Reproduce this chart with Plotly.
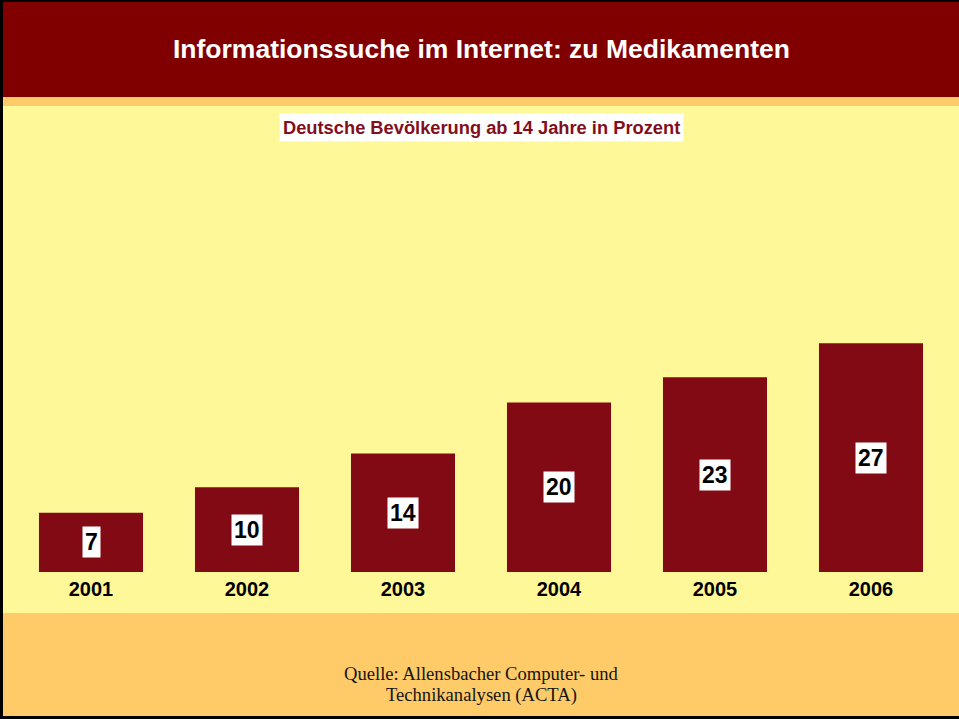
import plotly.graph_objects as go

years = ["2001", "2002", "2003", "2004", "2005", "2006"]
values = [7, 10, 14, 20, 23, 27]

title_text = "Informationssuche im Internet: zu Medikamenten"
subtitle_text = "Deutsche Bevölkerung ab 14 Jahre in Prozent"
source_lines = ["Quelle: Allensbacher Computer- und", "Technikanalysen (ACTA)"]

W, H = 959, 719
L, R, T, B = 13, 10, 106, 147
plot_h = H - T - B


def py(pix):
    # convert pixel row (from top) to paper coordinate
    return (H - B - pix) / plot_h


def px(pix):
    return (pix - L) / (W - L - R)


BAR = "#820A14"
DARK = "#800000"
ORANGE = "#FFCA68"
YELLOW = "#FFF899"
SANS = "Liberation Sans, Arial"

fig = go.Figure()
fig.add_trace(go.Bar(x=years, y=values, marker=dict(color=BAR, line=dict(width=0)),
                     width=0.667, hoverinfo="skip"))

for i, v in enumerate(values):
    fig.add_annotation(x=i, y=v / 2, xref="x", yref="y", text="<b>" + str(v) + "</b>",
                       showarrow=False, bgcolor="white", borderpad=2,
                       font=dict(family=SANS, size=23, color="black"),
                       xanchor="center", yanchor="middle")

shapes = [
    dict(type="rect", xref="paper", yref="paper", x0=px(0), x1=px(W), y0=py(0), y1=py(97),
         fillcolor=DARK, line=dict(width=0), layer="below"),
    dict(type="rect", xref="paper", yref="paper", x0=px(0), x1=px(W), y0=py(97), y1=py(106),
         fillcolor=ORANGE, line=dict(width=0), layer="below"),
    dict(type="rect", xref="paper", yref="paper", x0=px(0), x1=px(W), y0=py(613), y1=py(H),
         fillcolor=ORANGE, line=dict(width=0), layer="below"),
    # border lines
    dict(type="rect", xref="paper", yref="paper", x0=px(0), x1=px(3), y0=py(0), y1=py(H),
         fillcolor="black", line=dict(width=0), layer="above"),
    dict(type="rect", xref="paper", yref="paper", x0=px(0), x1=px(W), y0=py(0), y1=py(2),
         fillcolor="black", line=dict(width=0), layer="above"),
    dict(type="rect", xref="paper", yref="paper", x0=px(0), x1=px(W), y0=py(716), y1=py(H),
         fillcolor="black", line=dict(width=0), layer="above"),
]

annotations = [
    dict(text="<b>" + title_text + "</b>", xref="paper", yref="paper", x=px(481), y=py(49),
         showarrow=False, xanchor="center", yanchor="middle",
         font=dict(family=SANS, size=26.5, color="white")),
    dict(text="<b>" + subtitle_text + "</b>", xref="paper", yref="paper", x=px(481), y=py(127),
         showarrow=False, xanchor="center", yanchor="middle", bgcolor="white", borderpad=3,
         font=dict(family=SANS, size=18.3, color="#820E1C")),
    dict(text=source_lines[0], xref="paper", yref="paper", x=px(481), y=py(673),
         showarrow=False, xanchor="center", yanchor="middle",
         font=dict(family="Liberation Serif, Times New Roman", size=18.6, color="#151515")),
    dict(text=source_lines[1], xref="paper", yref="paper", x=px(481), y=py(695),
         showarrow=False, xanchor="center", yanchor="middle",
         font=dict(family="Liberation Serif, Times New Roman", size=18.6, color="#151515")),
]

fig.update_layout(
    width=W, height=H,
    margin=dict(l=L, r=R, t=T, b=B, pad=0, autoexpand=False),
    paper_bgcolor=YELLOW, plot_bgcolor=YELLOW,
    showlegend=False,
    shapes=shapes,
    xaxis=dict(type="category", range=[-0.5, 5.5], autorange=False,
               categoryorder="array", categoryarray=years,
               showgrid=False, zeroline=False, showline=False, ticks="",
               ticklabelstandoff=3,
               tickfont=dict(family=SANS, size=20, color="black"),
               tickprefix="<b>", ticksuffix="</b>", fixedrange=True, automargin=False),
    yaxis=dict(range=[0, 55], autorange=False, visible=False, fixedrange=True,
               automargin=False),
)
for a in annotations:
    fig.add_annotation(**a)

fig.write_html("out.html", config={"displayModeBar": False},
               post_script="document.body.style.margin='0';")
